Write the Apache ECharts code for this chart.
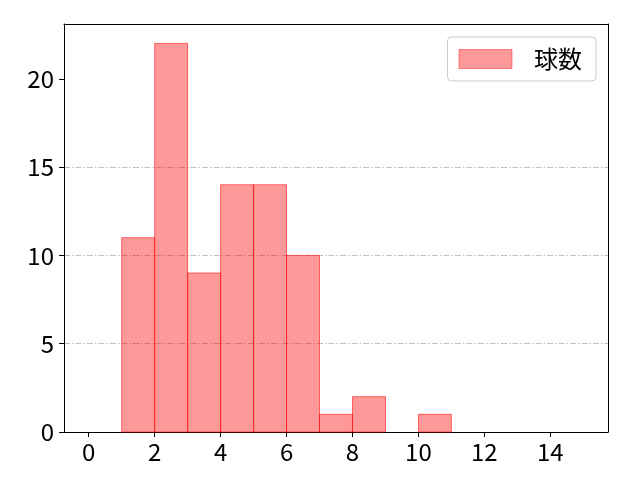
<!DOCTYPE html>
<html><head><meta charset="utf-8">
<script src="https://cdn.jsdelivr.net/npm/echarts@6/dist/echarts.min.js"></script>
<style>html,body{margin:0;padding:0;background:#fff}#c{width:640px;height:480px}</style>
</head><body><div id="c"></div>
<script>
const binStarts = [1, 2, 3, 4, 5, 6, 7, 8, 9, 10];
const counts = [11, 22, 9, 14, 14, 10, 1, 2, 0, 1];
const seriesName = '球数';
const xTicks = [0, 2, 4, 6, 8, 10, 12, 14];
const yTicks = [0, 5, 10, 15, 20];
const binWidth = 1;

const data = binStarts.map((s, i) => [s, s + binWidth, counts[i]]);
const font = "'Noto Sans CJK JP', sans-serif";
const chart = echarts.init(document.getElementById('c'));
chart.setOption({
  animation: false,
  backgroundColor: '#fff',
  grid: { left: 64, right: 32, top: 24, bottom: 48 },
  legend: {
    right: 44, top: 37,
    padding: [10, 14, 10, 11],
    borderColor: '#cccccc', borderWidth: 1, borderRadius: 4,
    backgroundColor: 'rgba(255,255,255,0.8)',
    itemWidth: 53, itemHeight: 19,
    textStyle: { fontSize: 24, fontFamily: font, color: '#000', padding: [0, 0, 0, 17] },
    data: [{ name: seriesName, icon: 'rect', itemStyle: { color: 'rgba(255,0,0,0.4)', borderColor: 'rgba(255,0,0,0.4)', borderWidth: 1 } }]
  },
  xAxis: [{
    type: 'value', min: -0.75, max: 15.75,
    axisLine: { show: true, onZero: false, lineStyle: { color: '#000', width: 1 } },
    axisTick: { show: true, customValues: xTicks, length: 5, lineStyle: { color: '#000' } },
    axisLabel: { customValues: xTicks, fontSize: 24, fontFamily: font, color: '#000', margin: 8 },
    splitLine: { show: false }
  }, {
    type: 'value', min: -0.75, max: 15.75, position: 'top',
    axisLine: { show: true, onZero: false, lineStyle: { color: '#000', width: 1 } },
    axisTick: { show: false }, axisLabel: { show: false }, splitLine: { show: false }
  }],
  yAxis: [{
    type: 'value', min: 0, max: 23.1, interval: 5,
    axisLine: { show: true, onZero: false, lineStyle: { color: '#000', width: 1 } },
    axisTick: { show: true, customValues: yTicks, length: 5, lineStyle: { color: '#000' } },
    axisLabel: { customValues: yTicks, fontSize: 24, fontFamily: font, color: '#000', margin: 10 },
    splitLine: { show: true, showMaxLine: false, lineStyle: { color: '#b0b0b0', width: 0.8, type: [6, 2, 1.5, 2] } }
  }, {
    type: 'value', min: 0, max: 23.1, position: 'right',
    axisLine: { show: true, onZero: false, lineStyle: { color: '#000', width: 1 } },
    axisTick: { show: false }, axisLabel: { show: false }, splitLine: { show: false }
  }],
  series: [{
    name: seriesName,
    type: 'custom',
    xAxisIndex: 0, yAxisIndex: 0,
    data: data,
    encode: { x: [0, 1], y: 2 },
    renderItem: function (params, api) {
      const p0 = api.coord([api.value(0), 0]);
      const p1 = api.coord([api.value(1), api.value(2)]);
      if (api.value(2) === 0) return null;
      return {
        type: 'rect',
        shape: { x: p0[0], y: p1[1], width: p1[0] - p0[0], height: p0[1] - p1[1] },
        style: { fill: 'rgba(255,0,0,0.4)', stroke: 'rgba(255,0,0,0.55)', lineWidth: 1 }
      };
    },
    itemStyle: { color: 'rgba(255,0,0,0.4)' }
  }]
});
</script></body></html>
